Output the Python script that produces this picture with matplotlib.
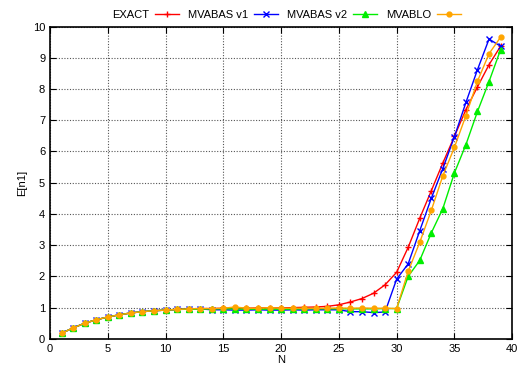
import matplotlib
matplotlib.use("Agg")
import matplotlib.pyplot as plt

n = list(range(1, 40))
head = [0.18, 0.35, 0.50, 0.61, 0.70, 0.77, 0.83, 0.87, 0.90, 0.92, 0.94]

exact = head + [0.96, 0.97, 0.97, 0.98, 0.98, 0.98, 0.99, 0.99, 0.99, 1.00, 1.01, 1.02, 1.04,
                1.09, 1.18, 1.29, 1.46, 1.73, 2.13, 2.93, 3.86, 4.74, 5.63, 6.48, 7.34, 8.07, 8.78, 9.37]
mvabas_v1 = head + [0.96, 0.96, 0.93, 0.93, 0.92, 0.92, 0.93, 0.92, 0.92, 0.93, 0.92, 0.93, 0.93,
                    0.93, 0.87, 0.87, 0.84, 0.86, 1.91, 2.40, 3.46, 4.50, 5.45, 6.47, 7.57, 8.62, 9.60, 9.37]
mvabas_v2 = head + [0.95, 0.95, 0.96, 0.96, 0.96, 0.95, 0.95, 0.95, 0.95, 0.95, 0.96, 0.96, 0.96,
                    0.96, 0.96, 0.96, 0.96, 0.97, 0.97, 2.00, 2.51, 3.39, 4.17, 5.31, 6.22, 7.28, 8.24, 9.26]
mvablo = head + [0.96, 0.97, 0.97, 0.98, 1.02, 0.98, 0.98, 1.00, 0.98, 0.98, 0.98, 0.98, 0.98,
                 0.99, 0.98, 0.99, 0.98, 0.98, 0.97, 2.16, 3.09, 4.11, 5.22, 6.13, 7.15, 8.25, 9.13, 9.66]

series = [("EXACT", exact, "red", "+", 5),
          ("MVABAS v1", mvabas_v1, "blue", "x", 4),
          ("MVABAS v2", mvabas_v2, "#00ee00", "^", 4),
          ("MVABLO", mvablo, "#ffa500", "o", 3.5)]

plt.rcParams["font.family"] = ["Liberation Sans", "DejaVu Sans"]
fig = plt.figure(figsize=(5.21, 3.74), dpi=100)
ax = fig.add_axes([0.096, 0.094, 0.887, 0.835])
for lbl, y, c, m, ms in series:
    ax.plot(n, y, color=c, marker=m, ms=ms, lw=1, mew=1, label=lbl)

ax.set_xlim(0, 40); ax.set_ylim(0, 10)
ax.set_xticks(range(0, 41, 5)); ax.set_yticks(range(0, 11))
ax.grid(True, ls=(0, (1, 1.5)), color="#555555", lw=0.8)
ax.tick_params(direction="in", top=True, right=True, labelsize=8, length=4)
for s in ax.spines.values():
    s.set_linewidth(1.2)
ax.set_xlabel("N", fontsize=8, labelpad=1)
ax.set_ylabel("E[n1]", fontsize=8, labelpad=4)

fig.legend(loc="center", bbox_to_anchor=(0.55, 1 - 15 / 374), ncol=4, frameon=False,
           markerfirst=False, fontsize=8, handlelength=2.2, columnspacing=0.8, handletextpad=0.5)
fig.savefig("out.png", dpi=100)
